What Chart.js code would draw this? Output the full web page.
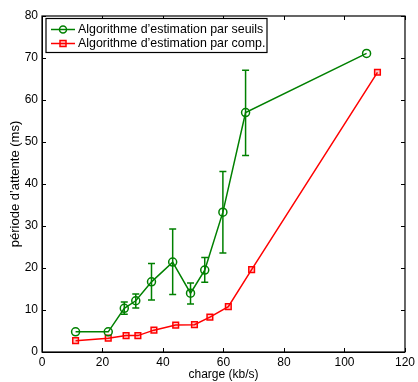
<!DOCTYPE html>
<html>
<head>
<meta charset="utf-8">
<script src="https://cdn.jsdelivr.net/npm/chart.js@4/dist/chart.umd.min.js"></script>
<style>
html,body{margin:0;padding:0;background:#fff;}
#wrap{width:418px;height:382px;position:relative;}
</style>
</head>
<body>
<div id="wrap"><canvas id="c" width="418" height="382"></canvas></div>
<script>
const seuilsX = [11.1, 21.9, 27.2, 31.0, 36.2, 43.2, 49.1, 53.8, 59.8, 67.3, 107.3];
const seuilsY = [4.8, 4.8, 10.4, 12.2, 16.7, 21.4, 14.0, 19.5, 33.3, 57.0, 71.1];
const seuilsLow = [null, null, 9.0, 10.5, 12.4, 13.7, 11.4, 16.6, 23.6, 46.8, null];
const seuilsHigh = [null, null, 11.9, 13.8, 21.1, 29.3, 16.4, 22.5, 43.0, 67.1, null];
const compX = [11.1, 21.9, 27.8, 31.7, 37.0, 44.2, 50.4, 55.5, 61.6, 69.3, 110.9];
const compY = [2.7, 3.3, 3.9, 3.9, 5.2, 6.4, 6.5, 8.3, 10.8, 19.6, 66.6];
const xTicks = [0, 20, 40, 60, 80, 100, 120];
const yTicks = [0, 10, 20, 30, 40, 50, 60, 70, 80];
const labels = ["Algorithme d\u2019estimation par seuils", "Algorithme d\u2019estimation par comp."];

const GREEN = '#008000';
const RED = '#ff0000';
const FONT = '"Liberation Sans", Arial, sans-serif';

const errorBars = {
  id: 'errorBars',
  afterDatasetsDraw(chart) {
    const ctx = chart.ctx, xs = chart.scales.x, ys = chart.scales.y;
    ctx.save();
    ctx.strokeStyle = GREEN;
    ctx.lineWidth = 1.5;
    for (let i = 0; i < seuilsX.length; i++) {
      if (seuilsLow[i] == null) continue;
      const px = xs.getPixelForValue(seuilsX[i]);
      const lo = ys.getPixelForValue(seuilsLow[i]);
      const hi = ys.getPixelForValue(seuilsHigh[i]);
      ctx.beginPath();
      ctx.moveTo(px, lo); ctx.lineTo(px, hi);
      ctx.moveTo(px - 3.5, lo); ctx.lineTo(px + 3.5, lo);
      ctx.moveTo(px - 3.5, hi); ctx.lineTo(px + 3.5, hi);
      ctx.stroke();
    }
    ctx.restore();
  }
};

const frame = {
  id: 'frame',
  afterDraw(chart) {
    const ctx = chart.ctx, a = chart.chartArea, xs = chart.scales.x, ys = chart.scales.y;
    ctx.save();
    ctx.strokeStyle = '#000';
    ctx.lineWidth = 1;
    ctx.beginPath();
    xTicks.forEach(v => {
      const px = Math.round(xs.getPixelForValue(v)) + 0.5;
      ctx.moveTo(px, a.bottom); ctx.lineTo(px, a.bottom - 4);
      ctx.moveTo(px, a.top); ctx.lineTo(px, a.top + 4);
    });
    yTicks.forEach(v => {
      const py = Math.round(ys.getPixelForValue(v)) + 0.5;
      ctx.moveTo(a.left, py); ctx.lineTo(a.left + 4, py);
      ctx.moveTo(a.right, py); ctx.lineTo(a.right - 4, py);
    });
    ctx.stroke();
    ctx.lineWidth = 1.2;
    ctx.strokeRect(a.left, a.top, a.right - a.left, a.bottom - a.top);

    // legend
    const lx = a.left + 4, ly = a.top + 2.5, lw = 221, lh = 34;
    ctx.fillStyle = '#fff';
    ctx.fillRect(lx, ly, lw, lh);
    ctx.lineWidth = 1.2;
    ctx.strokeStyle = '#000';
    ctx.strokeRect(lx, ly, lw, lh);
    const rows = [ly + 11, ly + 25];
    ctx.font = '12.4px ' + FONT;
    ctx.textBaseline = 'middle';
    ctx.textAlign = 'left';
    ctx.strokeStyle = GREEN; ctx.lineWidth = 1.5;
    ctx.beginPath(); ctx.moveTo(lx + 5, rows[0]); ctx.lineTo(lx + 29, rows[0]); ctx.stroke();
    ctx.beginPath(); ctx.arc(lx + 17, rows[0], 3.5, 0, Math.PI * 2); ctx.stroke();
    ctx.fillStyle = '#000';
    ctx.fillText(labels[0], lx + 32, rows[0]);
    ctx.strokeStyle = RED;
    ctx.beginPath(); ctx.moveTo(lx + 5, rows[1]); ctx.lineTo(lx + 29, rows[1]); ctx.stroke();
    ctx.fillStyle = 'rgba(255,0,0,0.2)';
    ctx.fillRect(lx + 14, rows[1] - 3, 6, 6);
    ctx.strokeRect(lx + 14, rows[1] - 3, 6, 6);
    ctx.fillStyle = '#000';
    ctx.fillText(labels[1], lx + 32, rows[1]);
    ctx.restore();
  }
};

new Chart(document.getElementById('c'), {
  type: 'line',
  data: {
    datasets: [
      {
        label: labels[0],
        data: seuilsX.map((x, i) => ({x: x, y: seuilsY[i]})),
        borderColor: GREEN,
        backgroundColor: 'rgba(0,0,0,0)',
        borderWidth: 1.5,
        pointStyle: 'circle',
        pointRadius: 4,
        pointBorderWidth: 1.5,
        pointBorderColor: GREEN,
        pointBackgroundColor: 'rgba(0,0,0,0)',
        tension: 0
      },
      {
        label: labels[1],
        data: compX.map((x, i) => ({x: x, y: compY[i]})),
        borderColor: RED,
        backgroundColor: 'rgba(255,0,0,0.2)',
        borderWidth: 1.5,
        pointStyle: 'rect',
        pointRadius: 4,
        pointBorderWidth: 1.5,
        pointBorderColor: RED,
        pointBackgroundColor: 'rgba(255,0,0,0.2)',
        tension: 0
      }
    ]
  },
  options: {
    responsive: false,
    animation: false,
    devicePixelRatio: 1,
    layout: {padding: {left: 0, right: 10, top: 16, bottom: 0}},
    plugins: {legend: {display: false}, tooltip: {enabled: false}},
    scales: {
      x: {
        type: 'linear', min: 0, max: 120,
        afterBuildTicks: s => { s.ticks = xTicks.map(v => ({value: v})); },
        afterFit: s => { s.height = 30; },
        grid: {display: false, drawTicks: false},
        border: {display: true, color: '#000', width: 1},
        ticks: {color: '#000', padding: 3, font: {family: FONT, size: 12}, maxRotation: 0},
        title: {display: true, text: 'charge (kb/s)', color: '#000', font: {family: FONT, size: 12}, padding: {top: 0, bottom: 0}}
      },
      y: {
        type: 'linear', min: 0, max: 80,
        afterBuildTicks: s => { s.ticks = yTicks.map(v => ({value: v})); },
        afterFit: s => { s.width = 42; },
        grid: {display: false, drawTicks: false},
        border: {display: true, color: '#000', width: 1},
        ticks: {color: '#000', padding: 4, font: {family: FONT, size: 12}},
        title: {display: true, text: 'p\u00e9riode d\u2019attente (ms)', color: '#000', font: {family: FONT, size: 13}, padding: {top: 8, bottom: 0}}
      }
    }
  },
  plugins: [errorBars, frame]
});
</script>
</body>
</html>
